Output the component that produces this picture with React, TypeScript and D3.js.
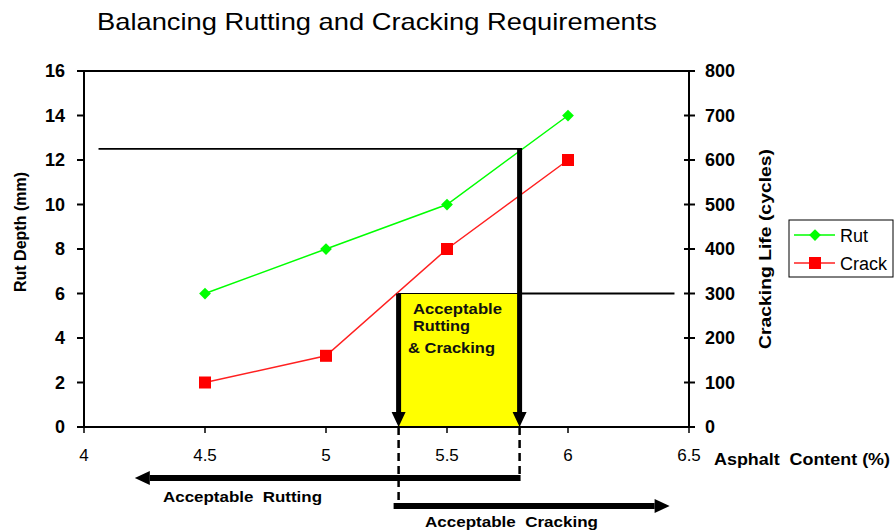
import React from 'react';
import * as d3 from 'd3';

// chart values
const asphaltContent = [4.5, 5, 5.5, 6];
const rutDepth = [6, 8, 10, 14];
const crackLife = [100, 160, 400, 600];
const xTicks = [4, 4.5, 5, 5.5, 6, 6.5];
const rutTicks = [0, 2, 4, 6, 8, 10, 12, 14, 16];
const crackTicks = [0, 100, 200, 300, 400, 500, 600, 700, 800];

// annotation values
const rutLimit = 12.5; // mm
const crackLimit = 300; // cycles
const maxAC = 5.8; // max asphalt content for rutting
const minAC = 5.3; // min asphalt content for cracking
const rutLineStart = 4.06;
const crackLineEnd = 6.44;
const rutArrowEnd = 4.21;
const crackArrowEnd = 6.42;

const W = 896;
const H = 531;
const margin = { top: 71, right: 210, bottom: 104, left: 84 };
const FONT = "'Liberation Sans', Arial, sans-serif";

const Arrow = ({ x1, y1, x2, y2, w = 4, head = 13, hw = 8 }: any) => {
  const ang = Math.atan2(y2 - y1, x2 - x1);
  const bx = x2 - head * Math.cos(ang);
  const by = y2 - head * Math.sin(ang);
  const px = -Math.sin(ang) * hw;
  const py = Math.cos(ang) * hw;
  return (
    <g>
      <line x1={x1} y1={y1} x2={bx} y2={by} stroke="#000" strokeWidth={w} />
      <path d={`M${x2},${y2}L${bx + px},${by + py}L${bx - px},${by - py}Z`} fill="#000" />
    </g>
  );
};

export default function App() {
  const x = d3.scaleLinear().domain([4, 6.5]).range([margin.left, W - margin.right + 3]);
  const yL = d3.scaleLinear().domain([0, 16]).range([H - margin.bottom, margin.top]);
  const yR = d3.scaleLinear().domain([0, 800]).range([H - margin.bottom, margin.top]);
  const x0 = x(4);
  const x1 = x(6.5);
  const yb = yL(0);
  const yt = yL(16);

  const rutLine = d3.line<number>().x((d, i) => x(asphaltContent[i])).y((d) => yL(d));
  const crackLine = d3.line<number>().x((d, i) => x(asphaltContent[i])).y((d) => yR(d));
  const diamond = d3.symbol().type(d3.symbolDiamond2).size(88)() as string;

  const xa = x(minAC);
  const xb = x(maxAC);
  const yRut = yL(rutLimit);
  const yCrack = yR(crackLimit);
  const yRutArrow = 478;
  const yCrackArrow = 506;

  return (
    <svg width={W} height={H} style={{ position: 'absolute', left: 0, top: 0, background: '#fff' }}>
      <text x={97} y={30} fontFamily={FONT} fontSize={24} fill="#000" textLength={560} lengthAdjust="spacingAndGlyphs">
        Balancing Rutting and Cracking Requirements
      </text>

      {/* yellow acceptable region */}
      <rect x={xa} y={yCrack} width={xb - xa} height={yb - yCrack} fill="#ffff00" stroke="#000" strokeWidth={1} />
      <g fontFamily={FONT} fontWeight="bold" fontSize={14} fill="#111">
        <text x={413} y={314} textLength={89} lengthAdjust="spacingAndGlyphs">Acceptable</text>
        <text x={413} y={331} textLength={57} lengthAdjust="spacingAndGlyphs">Rutting</text>
        <text x={408} y={353} textLength={87} lengthAdjust="spacingAndGlyphs">&amp; Cracking</text>
      </g>

      {/* limit lines */}
      <line x1={x(rutLineStart)} x2={xb} y1={yRut} y2={yRut} stroke="#000" strokeWidth={1.8} />
      <line x1={xb} x2={x(crackLineEnd)} y1={yCrack} y2={yCrack} stroke="#000" strokeWidth={1.8} />

      {/* frame */}
      <line x1={x0} x2={x1} y1={yt} y2={yt} stroke="#000" strokeWidth={2} />
      <line x1={x0} x2={x0} y1={yt} y2={yb} stroke="#000" strokeWidth={2} />
      <line x1={x1} x2={x1} y1={yt} y2={yb} stroke="#000" strokeWidth={2} />
      <line x1={x0} x2={x1} y1={yb} y2={yb} stroke="#000" strokeWidth={2} />

      {/* left axis */}
      <g fontFamily={FONT} fontWeight="bold" fontSize={18} fill="#000">
        {rutTicks.map((t) => (
          <g key={t}>
            <line x1={x0 - 7} x2={x0} y1={yL(t)} y2={yL(t)} stroke="#000" strokeWidth={2} />
            <text x={x0 - 19} y={yL(t) + 6} textAnchor="end">{t}</text>
          </g>
        ))}
      </g>
      {/* right axis */}
      <g fontFamily={FONT} fontWeight="bold" fontSize={18} fill="#000">
        {crackTicks.map((t) => (
          <g key={t}>
            <line x1={x1 - 5} x2={x1 + 6} y1={yR(t)} y2={yR(t)} stroke="#000" strokeWidth={2} />
            <text x={x1 + 16} y={yR(t) + 6}>{t}</text>
          </g>
        ))}
      </g>
      {/* x axis */}
      <g fontFamily={FONT} fontSize={17} fill="#000">
        {xTicks.map((t) => (
          <g key={t}>
            <line x1={x(t)} x2={x(t)} y1={yb - 1} y2={yb + 6} stroke="#000" strokeWidth={1.5} />
            <text x={x(t)} y={yb + 34} textAnchor="middle">{t}</text>
          </g>
        ))}
        <text x={714} y={yb + 38} fontWeight="bold" fontSize={16} textLength={176} lengthAdjust="spacingAndGlyphs">
          Asphalt&#160; Content (%)
        </text>
      </g>

      <text transform={`translate(26,232) rotate(-90)`} textAnchor="middle"
        fontFamily={FONT} fontWeight="bold" fontSize={16} fill="#000">Rut Depth (mm)</text>
      <text transform={`translate(771,249) rotate(-90)`} textAnchor="middle"
        fontFamily={FONT} fontWeight="bold" fontSize={17} fill="#000" textLength={200} lengthAdjust="spacingAndGlyphs">
        Cracking Life (cycles)
      </text>

      {/* series */}
      <path d={rutLine(rutDepth) as string} fill="none" stroke="#00ff00" strokeWidth={1.5} />
      <path d={crackLine(crackLife) as string} fill="none" stroke="#ff2020" strokeWidth={1.5} />
      {rutDepth.map((v, i) => (
        <path key={i} d={diamond} transform={`translate(${x(asphaltContent[i])},${yL(v)})`} fill="#00ff00" />
      ))}
      {crackLife.map((v, i) => (
        <rect key={i} x={x(asphaltContent[i]) - 6} y={yR(v) - 6} width={12} height={12} fill="#ff0000" />
      ))}

      {/* vertical arrows */}
      <Arrow x1={xb} y1={yRut - 1} x2={xb} y2={yb} w={5} head={15} hw={7} />
      <Arrow x1={xa} y1={yCrack} x2={xa} y2={yb} w={5} head={15} hw={7} />

      {/* dashed lines below axis */}
      <line x1={xa} x2={xa} y1={yb} y2={yCrackArrow - 3} stroke="#000" strokeWidth={2.5} strokeDasharray="8,5" />
      <line x1={xb} x2={xb} y1={yb} y2={yRutArrow} stroke="#000" strokeWidth={2.5} strokeDasharray="8,5" />

      {/* horizontal arrows */}
      <Arrow x1={xb + 1} y1={yRutArrow} x2={x(rutArrowEnd)} y2={yRutArrow} w={6} head={15} hw={7} />
      <Arrow x1={xa - 5} y1={yCrackArrow} x2={x(crackArrowEnd)} y2={yCrackArrow} w={6} head={15} hw={7} />
      <g fontFamily={FONT} fontWeight="bold" fontSize={15} fill="#000">
        <text x={163} y={502} textLength={159} lengthAdjust="spacingAndGlyphs">Acceptable&#160; Rutting</text>
        <text x={425} y={527} textLength={173} lengthAdjust="spacingAndGlyphs">Acceptable&#160; Cracking</text>
      </g>

      {/* legend */}
      <rect x={789} y={220} width={104} height={57} fill="#fff" stroke="#000" strokeWidth={1} />
      <line x1={794} x2={835} y1={235} y2={235} stroke="#00ff00" strokeWidth={1.5} />
      <path d={diamond} transform="translate(815,235)" fill="#00ff00" />
      <line x1={794} x2={835} y1={263} y2={263} stroke="#ff2020" strokeWidth={1.5} />
      <rect x={809} y={257} width={12} height={12} fill="#ff0000" />
      <g fontFamily={FONT} fontSize={18} fill="#000">
        <text x={840} y={242}>Rut</text>
        <text x={840} y={270}>Crack</text>
      </g>
    </svg>
  );
}
